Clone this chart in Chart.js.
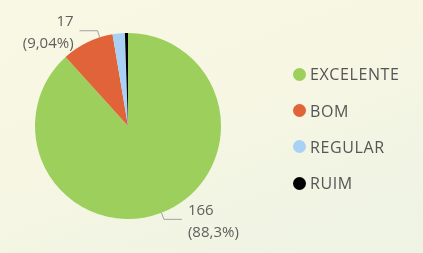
<!DOCTYPE html>
<html>
<head>
<meta charset="utf-8">
<script src="https://cdn.jsdelivr.net/npm/chart.js@4"></script>
<style>
  html, body { margin: 0; padding: 0; }
  body {
    width: 423px; height: 253px; overflow: hidden; position: relative;
    background: linear-gradient(160deg, #f9f8e4 0%, #f6f6e3 45%, #eef3e4 100%);
    font-family: 'Open Sans', sans-serif;
  }
  #wrap { position: absolute; left: 0; top: 0; width: 423px; height: 253px; }
  #legend { position: absolute; left: 293px; top: 56px; }
  .lg-item { display: flex; align-items: center; height: 36.4px; font-size: 16px; letter-spacing: 0.6px; color: #555; }
  .lg-dot { width: 13px; height: 13px; border-radius: 50%; margin-right: 4px; flex: none; }
</style>
</head>
<body>
<div id="wrap"><canvas id="pie"></canvas></div>
<div id="legend"></div>
<script>
/* data */
const labels = ['EXCELENTE', 'BOM', 'REGULAR', 'RUIM'];
const values = [166, 17, 4, 1];
const colors = ['#9ccf5c', '#e0633a', '#a9d1f5', '#000000'];

/* which slices get an outside label, and where along the slice the leader starts */
const showLabel  = [true, true, false, false];
const anchorFrac = [0.5, 0.75, 0.5, 0.5];

const total = values.reduce((a, b) => a + b, 0);

function fmtPct(v) {
  const p = v / total * 100;
  const s = p >= 10 ? p.toFixed(1) : p.toFixed(2);
  return '(' + s.replace('.', ',') + '%)';
}

const outsideLabels = {
  id: 'outsideLabels',
  afterDatasetsDraw(chart) {
    const ctx = chart.ctx;
    const arcs = chart.getDatasetMeta(0).data;
    ctx.save();
    ctx.font = '15px "Open Sans", sans-serif';
    ctx.fillStyle = '#605e5c';
    ctx.strokeStyle = '#a0a0a0';
    ctx.lineWidth = 1;
    arcs.forEach((arc, i) => {
      if (!showLabel[i]) return;
      const a = arc.startAngle + (arc.endAngle - arc.startAngle) * anchorFrac[i];
      const r = arc.outerRadius;
      const px = arc.x + Math.cos(a) * r, py = arc.y + Math.sin(a) * r;
      const qx = arc.x + Math.cos(a) * (r + 7), qy = arc.y + Math.sin(a) * (r + 7);
      const right = Math.cos(a) >= 0;
      const ex = qx + (right ? 18 : -18);
      ctx.beginPath();
      ctx.moveTo(px, py); ctx.lineTo(qx, qy); ctx.lineTo(ex, qy);
      ctx.stroke();
      const tx = ex + (right ? 6 : -6);
      ctx.textAlign = right ? 'left' : 'right';
      ctx.textBaseline = 'middle';
      ctx.fillText(String(values[i]), tx, qy - 9);
      ctx.fillText(fmtPct(values[i]), tx, qy + 13);
    });
    ctx.restore();
  }
};

new Chart(document.getElementById('pie'), {
  type: 'pie',
  data: {
    labels: labels,
    datasets: [{ data: values, backgroundColor: colors, borderWidth: 0 }]
  },
  options: {
    responsive: true,
    maintainAspectRatio: false,
    animation: false,
    layout: { padding: { left: 35, right: 202, top: 33, bottom: 34 } },
    plugins: { legend: { display: false }, tooltip: { enabled: false } }
  },
  plugins: [outsideLabels]
});

/* html legend */
const lg = document.getElementById('legend');
labels.forEach((l, i) => {
  const row = document.createElement('div');
  row.className = 'lg-item';
  row.innerHTML = `<span class="lg-dot" style="background:${colors[i]}"></span>${l}`;
  lg.appendChild(row);
});
</script>
</body>
</html>
